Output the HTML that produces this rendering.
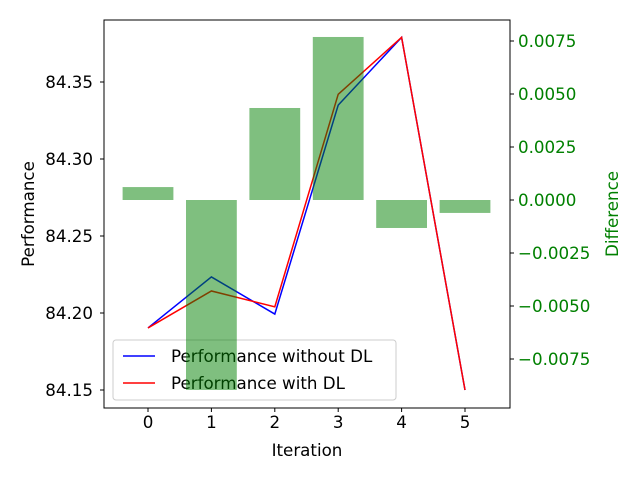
<!DOCTYPE html>
<html><head><meta charset="utf-8"><style>
body{margin:0;background:#fff}
svg text{font-family:"DejaVu Sans","Liberation Sans",sans-serif}
</style></head><body>
<svg id="c" width="640" height="480" xmlns="http://www.w3.org/2000/svg">
<g>
<rect x="113" y="340" width="283" height="60" rx="3" fill="#fff" fill-opacity="0.8" stroke="#ccc"/>
<line x1="123" x2="155" y1="356" y2="356" stroke="#0000ff" stroke-width="1.5"/>
<text x="171" y="362" font-size="16.7">Performance without DL</text>
<line x1="123" x2="155" y1="383" y2="383" stroke="#ff0000" stroke-width="1.5"/>
<text x="171" y="389" font-size="16.7">Performance with DL</text>
</g>
<text x="307" y="456" font-size="16.7" text-anchor="middle">Iteration</text>
<text transform="translate(34,214) rotate(-90)" font-size="16.7" text-anchor="middle">Performance</text>
<text transform="translate(618,214) rotate(-90)" font-size="16.7" text-anchor="middle" fill="#008000">Difference</text>
</svg>
<script>
const iterations=[0,1,2,3,4,5];
const perfWithout=[84.1903,84.2234,84.1993,84.335,84.379,84.150];
const perfWith=[84.1903,84.2143,84.204,84.342,84.379,84.150];
const difference=[0.00061,-0.00896,0.00434,0.00769,-0.00132,-0.00061];
const leftTicks=[84.15,84.20,84.25,84.30,84.35];
const rightTicks=[-0.0075,-0.005,-0.0025,0,0.0025,0.005,0.0075];
const rightLabels=["\u22120.0075","\u22120.0050","\u22120.0025","0.0000","0.0025","0.0050","0.0075"];

const L=104,R=510,T=20,B=408;
const xs=v=>148+(v-0)*63.4;
const yL=v=>390-(v-84.15)/0.05*77;
const yR=v=>200-v/0.0025*53;
const svg=document.getElementById('c');
const NS="http://www.w3.org/2000/svg";
function mk(tag,attrs,parent){const e=document.createElementNS(NS,tag);for(const k in attrs)e.setAttribute(k,attrs[k]);(parent||svg).appendChild(e);return e;}

function line(vals,color,name){
  const d=vals.map((v,i)=>(i?'L':'M')+xs(iterations[i])+' '+yL(v)).join(' ');
  const p=mk('path',{d:d,fill:'none',stroke:color,'stroke-width':1.5});
  
  
}
line(perfWithout,'#0000ff','line-performance-without-dl');
line(perfWith,'#ff0000','line-performance-with-dl');
iterations.forEach((it,i)=>{
  const y0=yR(0),y1=yR(difference[i]);
  const b=mk('rect',{x:xs(it)-25.4,y:Math.min(y0,y1),width:50.8,height:Math.abs(y1-y0),fill:'#008000','fill-opacity':0.5});
  
  
});
mk('rect',{x:L,y:T,width:R-L,height:B-T,fill:'none',stroke:'#000','stroke-width':1});
iterations.forEach(it=>{
  mk('line',{x1:xs(it),x2:xs(it),y1:B,y2:B+4,stroke:'#000'});
  const t=mk('text',{x:xs(it),y:B+20,'font-size':16.7,'text-anchor':'middle'});t.textContent=it;
  
  
});
leftTicks.forEach(v=>{
  mk('line',{x1:L-4,x2:L,y1:yL(v),y2:yL(v),stroke:'#000'});
  const t=mk('text',{x:L-11,y:yL(v)+6,'font-size':16.7,'text-anchor':'end'});t.textContent=v.toFixed(2);
  
  
});
rightTicks.forEach((v,i)=>{
  mk('line',{x1:R,x2:R+4,y1:yR(v),y2:yR(v),stroke:'#000'});
  const t=mk('text',{x:R+8,y:yR(v)+6,'font-size':16.7,fill:'#008000'});t.textContent=rightLabels[i];
  
  
});
</script>
</body></html>
